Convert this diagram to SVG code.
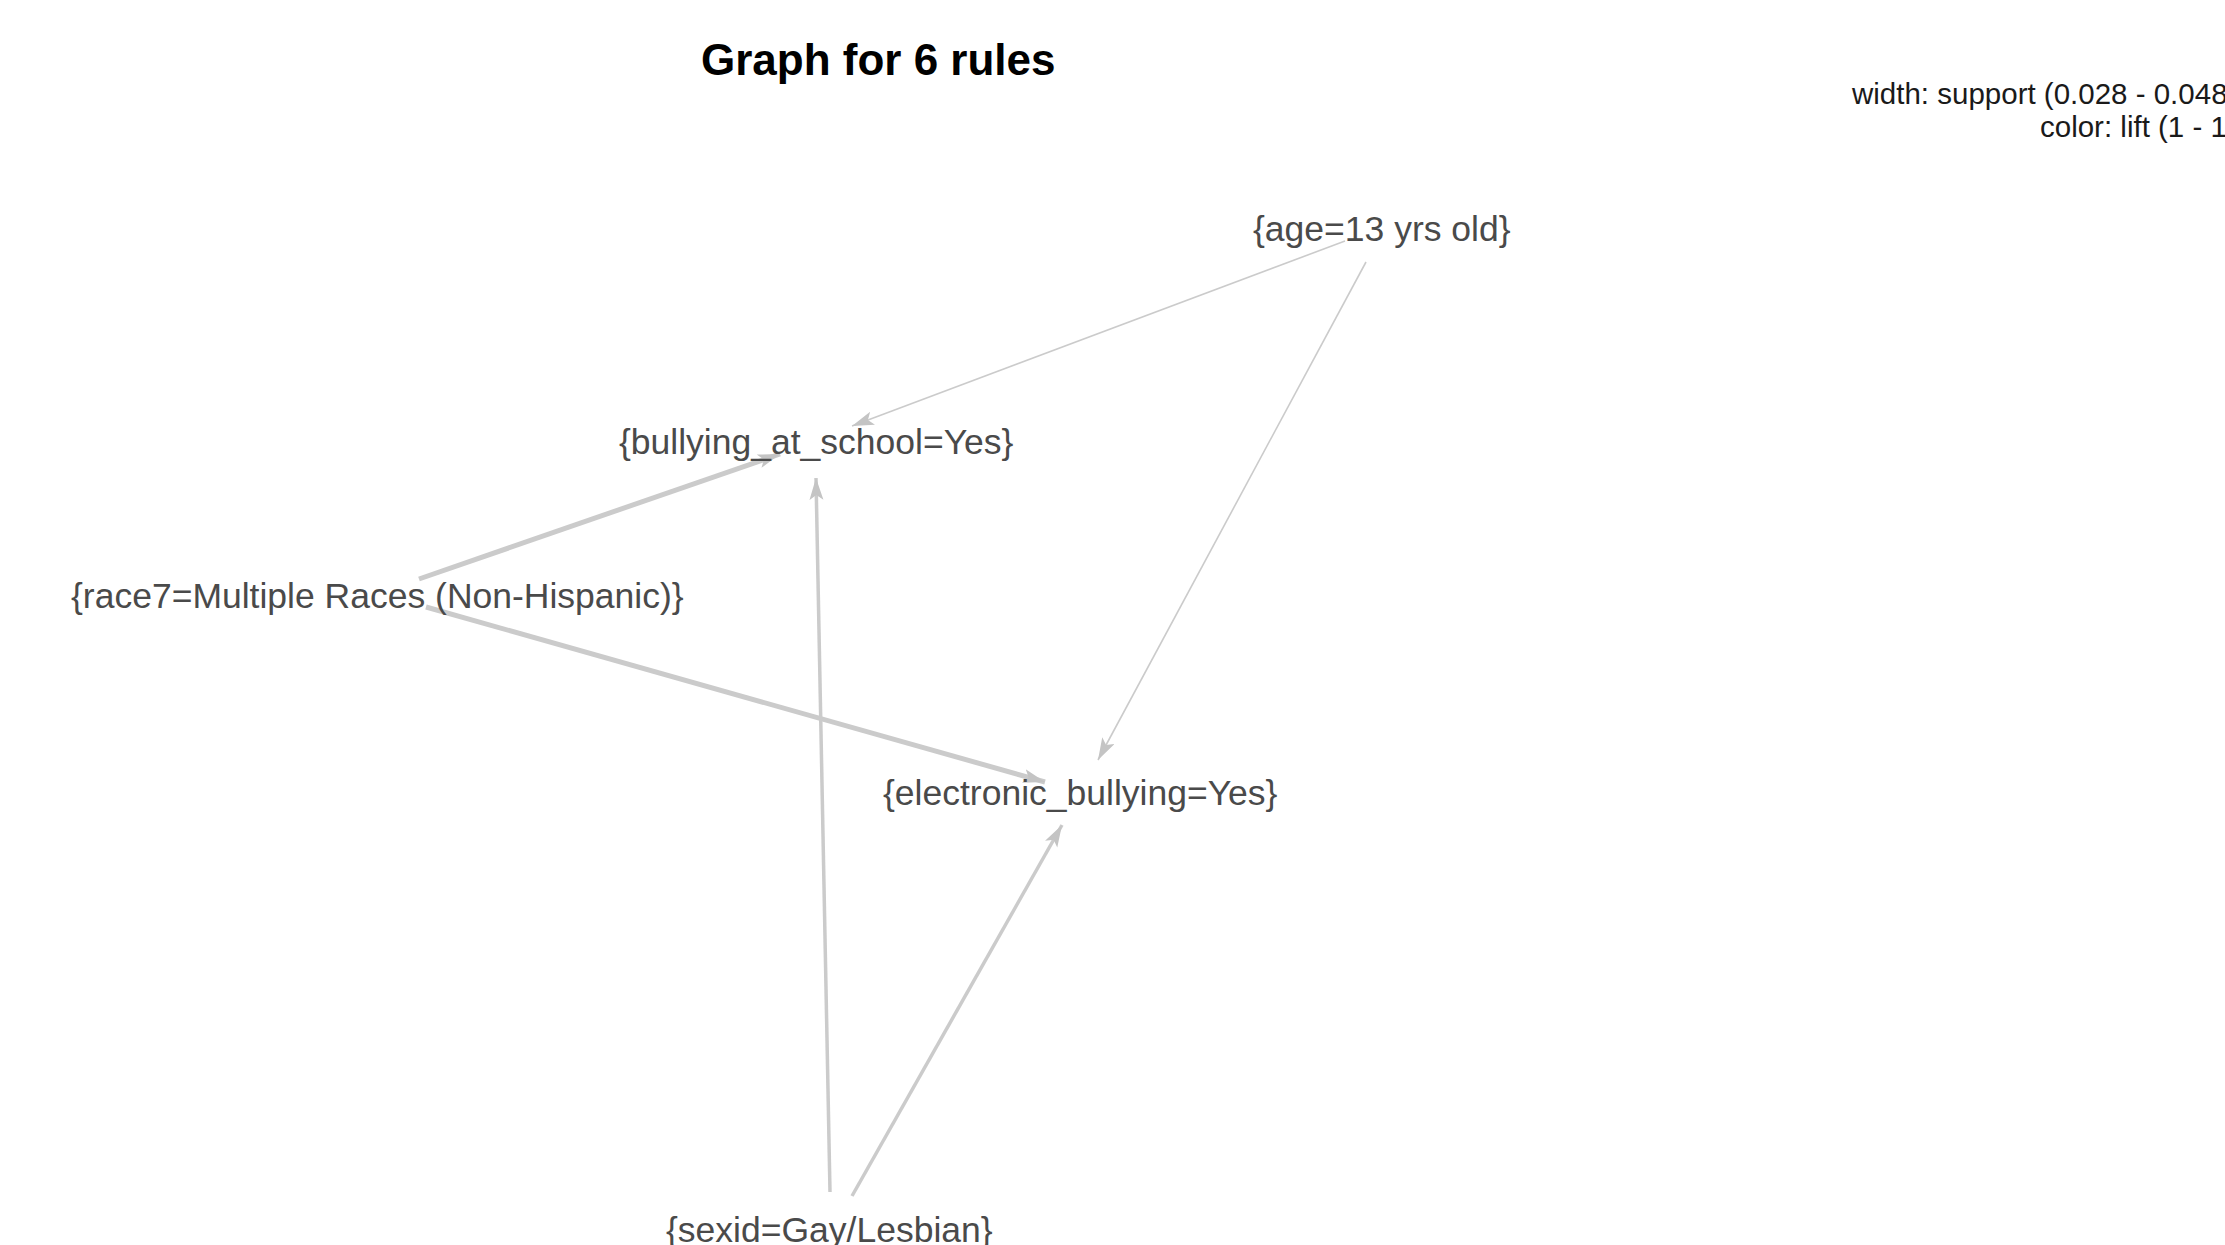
<svg xmlns="http://www.w3.org/2000/svg" width="2225" height="1245" viewBox="0 0 2225 1245">
<style>
.title{font-family:"Liberation Sans",Arial,sans-serif;font-weight:bold;font-size:44px;fill:#000}
.legend{font-family:"Liberation Sans",Arial,sans-serif;font-size:29.5px;fill:#1a1a1a}
.lbl{font-family:"Liberation Sans",Arial,sans-serif;font-size:35.5px;fill:#4a4a4a}
.e{fill:none;stroke:#cbcbcb;stroke-linecap:butt}
</style>
<defs>
<marker id="ah" markerUnits="userSpaceOnUse" markerWidth="24" markerHeight="16" refX="22" refY="7" orient="auto" viewBox="0 0 24 16">
<path d="M0,0 L22,7 L0,14 L5,7 Z" fill="#c4c4c4"/>
</marker>
</defs>
<rect width="2225" height="1245" fill="#fff"/>
<text class="title" x="701" y="75">Graph for 6 rules</text>
<text class="legend" x="1852" y="104">width: support (0.028 - 0.048</text>
<text class="legend" x="2040" y="137">color: lift (1 - 1</text>
<g id="edges">
<line class="e" x1="1345" y1="241" x2="852" y2="426" stroke-width="1.6" marker-end="url(#ah)"/>
<line class="e" x1="1366" y1="262" x2="1098" y2="760" stroke-width="1.6" marker-end="url(#ah)"/>
<line class="e" x1="419" y1="579" x2="780" y2="454" stroke-width="5" marker-end="url(#ah)"/>
<line class="e" x1="426" y1="607" x2="1045" y2="782" stroke-width="5" marker-end="url(#ah)"/>
<line class="e" x1="830" y1="1192" x2="816" y2="478" stroke-width="3.5" marker-end="url(#ah)"/>
<line class="e" x1="852" y1="1196" x2="1062" y2="825" stroke-width="3.5" marker-end="url(#ah)"/>
</g>
<g id="n-age"><text class="lbl" x="1253" y="241">{age=13 yrs old}</text></g>
<g id="n-bullying"><text class="lbl" x="619" y="454">{bullying_at_school=Yes}</text></g>
<g id="n-race"><text class="lbl" x="71" y="608">{race7=Multiple Races (Non-Hispanic)}</text></g>
<g id="n-electronic"><text class="lbl" x="883" y="805">{electronic_bullying=Yes}</text></g>
<g id="n-sexid"><text class="lbl" x="666" y="1242">{sexid=Gay/Lesbian}</text></g>
</svg>
